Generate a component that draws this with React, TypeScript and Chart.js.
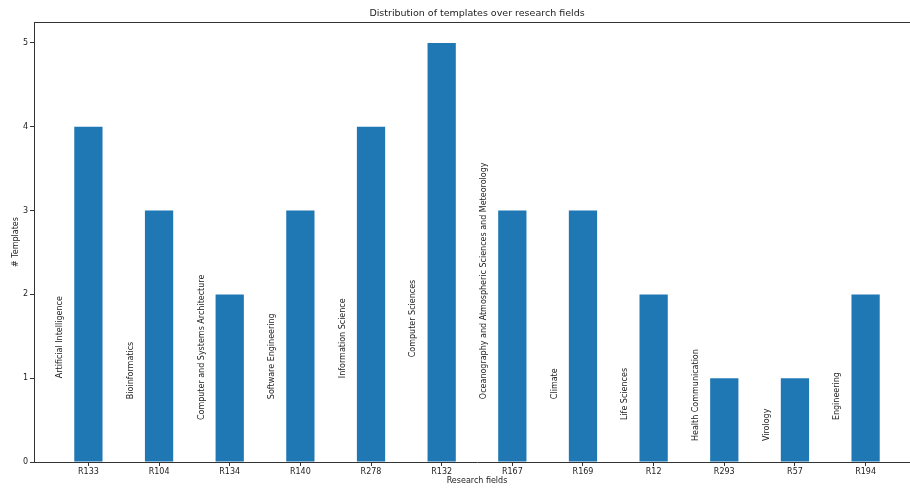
import React, { useEffect, useRef } from "react";
import { Chart, registerables } from "chart.js";

Chart.register(...registerables);

const codes = ["R133", "R104", "R134", "R140", "R278", "R132", "R167", "R169", "R12", "R293", "R57", "R194"];
const fields = [
  "Artificial Intelligence",
  "Bioinformatics",
  "Computer and Systems Architecture",
  "Software Engineering",
  "Information Science",
  "Computer Sciences",
  "Oceanography and Atmospheric Sciences and Meteorology",
  "Climate",
  "Life Sciences",
  "Health Communication",
  "Virology",
  "Engineering",
];
const counts = [4, 3, 2, 3, 4, 5, 3, 3, 2, 1, 1, 2];
const yTicks = [0, 1, 2, 3, 4, 5];

const FONT = "'DejaVu Sans', sans-serif";
const TEXT = "#222";
const AXIS = "#333";

export default function App() {
  const ref = useRef<HTMLCanvasElement>(null);

  useEffect(() => {
    if (!ref.current) return;

    const spines = {
      id: "spines",
      afterDraw(chart: any) {
        const { ctx, chartArea } = chart;
        ctx.save();
        ctx.strokeStyle = AXIS;
        ctx.lineWidth = 1;
        ctx.beginPath();
        ctx.moveTo(chartArea.left, chartArea.top + 0.5);
        ctx.lineTo(chartArea.right, chartArea.top + 0.5);
        ctx.lineTo(chartArea.right, chartArea.bottom);
        ctx.stroke();
        ctx.restore();
      },
    };

    const fieldLabels = {
      id: "fieldLabels",
      afterDatasetsDraw(chart: any) {
        const { ctx, scales } = chart;
        ctx.save();
        ctx.fillStyle = TEXT;
        ctx.font = `8px ${FONT}`;
        ctx.textAlign = "left";
        ctx.textBaseline = "middle";
        fields.forEach((f, i) => {
          const x = scales.x.getPixelForValue(i - 0.4);
          const y = scales.y.getPixelForValue(counts[i] / 4);
          ctx.save();
          ctx.translate(x, y);
          ctx.rotate(-Math.PI / 2);
          ctx.fillText(f, 0, 0);
          ctx.restore();
        });
        ctx.restore();
      },
    };

    const chart = new Chart(ref.current, {
      type: "bar",
      data: {
        datasets: [
          {
            data: counts.map((c, i) => ({ x: i, y: c })),
            backgroundColor: "#1f77b4",
            borderWidth: 0,
            categoryPercentage: 1,
            barPercentage: 0.4,
          },
        ],
      },
      options: {
        responsive: false,
        animation: false,
        devicePixelRatio: 1,
        layout: { padding: { left: 0, right: 10, top: 0, bottom: 0 } },
        plugins: {
          legend: { display: false },
          tooltip: { enabled: false },
          title: {
            display: true,
            fullSize: false,
            text: "Distribution of templates over research fields",
            color: TEXT,
            font: { family: FONT, size: 9.5, weight: "normal" },
            padding: { top: 8, bottom: 2.6 },
          },
        },
        scales: {
          x: {
            type: "linear",
            min: -0.77,
            max: 11.77,
            offset: false,
            afterBuildTicks: (scale: any) => {
              scale.ticks = codes.map((_, i) => ({ value: i }));
            },
            afterFit: (scale: any) => {
              scale.height = 27;
            },
            ticks: {
              autoSkip: false,
              maxRotation: 0,
              minRotation: 0,
              padding: 1,
              color: TEXT,
              font: { family: FONT, size: 8 },
              callback: (v: any) => codes[v as number] ?? "",
            },
            grid: { offset: false, drawOnChartArea: false, drawTicks: true, tickLength: 4, tickColor: AXIS },
            border: { display: true, color: AXIS, width: 1 },
            title: {
              display: true,
              text: "Research fields",
              color: TEXT,
              font: { family: FONT, size: 8 },
              padding: { top: 0, bottom: 3 },
            },
          },
          y: {
            type: "linear",
            min: 0,
            max: 5.25,
            afterBuildTicks: (scale: any) => {
              scale.ticks = yTicks.map((v) => ({ value: v }));
            },
            afterFit: (scale: any) => {
              scale.width = 34;
            },
            ticks: {
              padding: 2,
              color: TEXT,
              font: { family: FONT, size: 8 },
            },
            grid: { drawOnChartArea: false, drawTicks: true, tickLength: 4, tickColor: AXIS },
            border: { display: true, color: AXIS, width: 1 },
            title: {
              display: true,
              text: "# Templates",
              color: TEXT,
              font: { family: FONT, size: 8 },
              padding: { top: 11, bottom: 0 },
            },
          },
        },
      },
      plugins: [spines, fieldLabels],
    } as any);

    return () => chart.destroy();
  }, []);

  return (
    <div
      style={{
        position: "fixed",
        left: 0,
        top: 0,
        width: 910,
        height: 489,
        overflow: "hidden",
        background: "#fff",
      }}
    >
      <canvas ref={ref} width={930} height={489} style={{ display: "block", width: 930, height: 489 }} />
    </div>
  );
}
